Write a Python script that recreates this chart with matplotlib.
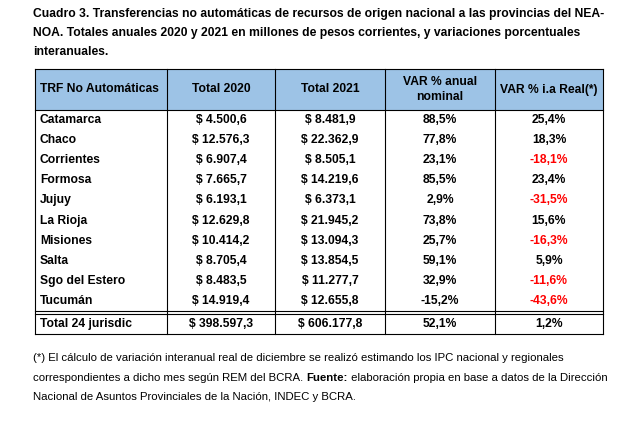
import matplotlib.pyplot as plt

provincias = ["Catamarca", "Chaco", "Corrientes", "Formosa", "Jujuy", "La Rioja",
              "Misiones", "Salta", "Sgo del Estero", "Tucumán", "Total 24 jurisdic"]
total_2020 = ["$ 4.500,6", "$ 12.576,3", "$ 6.907,4", "$ 7.665,7", "$ 6.193,1", "$ 12.629,8",
              "$ 10.414,2", "$ 8.705,4", "$ 8.483,5", "$ 14.919,4", "$ 398.597,3"]
total_2021 = ["$ 8.481,9", "$ 22.362,9", "$ 8.505,1", "$ 14.219,6", "$ 6.373,1", "$ 21.945,2",
              "$ 13.094,3", "$ 13.854,5", "$ 11.277,7", "$ 12.655,8", "$ 606.177,8"]
var_nominal = ["88,5%", "77,8%", "23,1%", "85,5%", "2,9%", "73,8%",
               "25,7%", "59,1%", "32,9%", "-15,2%", "52,1%"]
var_real = ["25,4%", "18,3%", "-18,1%", "23,4%", "-31,5%", "15,6%",
            "-16,3%", "5,9%", "-11,6%", "-43,6%", "1,2%"]
encabezados = ["TRF No Automáticas", "Total 2020", "Total 2021", "VAR % anual\nnominal", "VAR % i.a Real(*)"]

W, H = 633, 429
fig = plt.figure(figsize=(W / 100, H / 100), dpi=100)
ax = fig.add_axes([0, 0, 1, 1])
ax.set_xlim(0, W)
ax.set_ylim(H, 0)
ax.axis("off")

fam = "Liberation Sans"
fs = 8.7
titulo = ["Cuadro 3. Transferencias no automáticas de recursos de origen nacional a las provincias del NEA-",
          "NOA. Totales anuales 2020 y 2021 en millones de pesos corrientes, y variaciones porcentuales",
          "interanuales."]
for i, t in enumerate(titulo):
    ax.text(33, 14 + i * 19, t, fontsize=fs, fontweight="bold", va="center", family=fam)

cols = [35, 167, 275, 385, 495, 603]
top, head_bot = 69, 110
row_h = 20.1
ax.fill_between([cols[0], cols[-1]], top, head_bot, color="#9DC3E6", lw=0)

centros = [(cols[i] + cols[i + 1]) / 2 for i in range(5)]
for i, h in enumerate(encabezados):
    x = cols[0] + 5 if i == 0 else centros[i]
    ax.text(x, (top + head_bot) / 2, h, fontsize=fs, fontweight="bold", va="center",
            ha="left" if i == 0 else "center", family=fam, linespacing=1.3)

for r in range(len(provincias)):
    y0 = head_bot + r * row_h + (3 if r == 10 else 0)
    y = y0 + row_h / 2
    vals = [provincias[r], total_2020[r], total_2021[r], var_nominal[r], var_real[r]]
    for i, v in enumerate(vals):
        color = "#FF0000" if (i == 4 and v.startswith("-")) else "black"
        x = cols[0] + 5 if i == 0 else centros[i]
        ax.text(x, y, v, fontsize=fs, fontweight="bold", va="center", color=color,
                ha="left" if i == 0 else "center", family=fam)

bottom = head_bot + 11 * row_h + 3
sep = head_bot + 10 * row_h
for x in cols:
    ax.plot([x, x], [top, bottom], color="black", lw=0.8)
for y in [top, head_bot, sep, sep + 2.5, bottom]:
    ax.plot([cols[0], cols[-1]], [y, y], color="black", lw=0.8)

fn = 8.2
ax.text(33, 358, "(*) El cálculo de variación interanual real de diciembre se realizó estimando los IPC nacional y regionales",
        fontsize=fn, va="center", family=fam)
t1 = ax.text(33, 378, "correspondientes a dicho mes según REM del BCRA. ", fontsize=fn, va="center", family=fam)
t2 = ax.annotate("Fuente:", xycoords=t1, xy=(1, 0.5), va="center", fontsize=fn, fontweight="bold", family=fam)
ax.annotate(" elaboración propia en base a datos de la Dirección", xycoords=t2, xy=(1, 0.5), va="center",
            fontsize=fn, family=fam)
ax.text(33, 397, "Nacional de Asuntos Provinciales de la Nación, INDEC y BCRA.", fontsize=fn, va="center", family=fam)

fig.savefig("out.png", dpi=100)
